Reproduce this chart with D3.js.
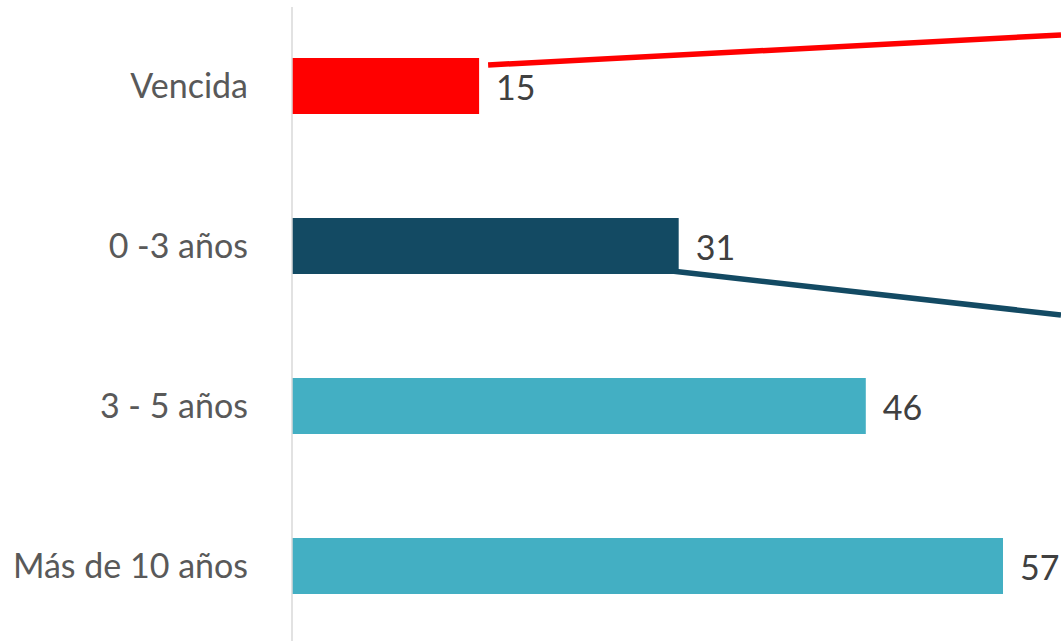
<!DOCTYPE html>
<html>
<head>
<meta charset="utf-8">
<script src="https://cdn.jsdelivr.net/npm/d3@7"></script>
<style>
  body { margin: 0; background: #fff; overflow: hidden; }
  text { font-family: Lato, "Open Sans", sans-serif; }
</style>
</head>
<body>
<script>
var categories = ["Vencida", "0 -3 años", "3 - 5 años", "Más de 10 años"];
var values = [15, 31, 46, 57];
var colors = ["#ff0000", "#134a63", "#43afc3", "#43afc3"];

var width = 1061;
var height = 641;
var axisX = 292;

var svg = d3.select("body").append("svg")
    .attr("width", width)
    .attr("height", height);

//value scale, bars start at the axis line
var x = d3.scaleLinear().domain([0, 57]).range([axisX, 1003]);

//category bands, last band runs just below the bottom edge
var y = d3.scaleBand().domain(categories).range([6, 646])
    .paddingInner(0.65).paddingOuter(0.325);

//connector lines going out to the right (cropped)
var connectors = [
    {cat: "Vencida", color: "#ff0000", dx: 9, edge: "top", endY: 35},
    {cat: "0 -3 años", color: "#134a63", dx: -7, edge: "bottom", endY: 315}
];

svg.selectAll(".connector").data(connectors).enter().append("line")
    .attr("class", "connector")
    .attr("x1", function(d) { return x(values[categories.indexOf(d.cat)]) + d.dx; })
    .attr("y1", function(d) { return d.edge == "top" ? y(d.cat) + 7 : y(d.cat) + y.bandwidth() - 3; })
    .attr("x2", width)
    .attr("y2", function(d) { return d.endY; })
    .attr("stroke", function(d) { return d.color; })
    .attr("stroke-width", 5.5);

//bars
svg.selectAll(".bar").data(values).enter().append("rect")
    .attr("class", "bar")
    .attr("x", x(0))
    .attr("y", function(d, i) { return y(categories[i]); })
    .attr("width", function(d) { return x(d) - x(0); })
    .attr("height", y.bandwidth())
    .attr("fill", function(d, i) { return colors[i]; });

//vertical category axis
var yAxis = d3.axisLeft(y).tickSize(0).tickPadding(44);
var gy = svg.append("g")
    .attr("transform", "translate(" + axisX + ",0)")
    .call(yAxis);
gy.select(".domain").remove();
gy.selectAll("text")
    .attr("fill", "#595959")
    .style("font-size", "34px")
    .attr("dy", "0.35em");

svg.append("line")
    .attr("x1", axisX).attr("x2", axisX)
    .attr("y1", 7).attr("y2", height)
    .attr("stroke", "#d9d9d9")
    .attr("stroke-width", 1.5);

//value labels
svg.selectAll(".val").data(values).enter().append("text")
    .attr("class", "val")
    .attr("x", function(d) { return x(d) + 17; })
    .attr("y", function(d, i) { return y(categories[i]) + y.bandwidth() / 2 + 2; })
    .attr("dy", "0.35em")
    .attr("fill", "#404040")
    .style("font-size", "34px")
    .text(function(d) { return d; });
</script>
</body>
</html>
